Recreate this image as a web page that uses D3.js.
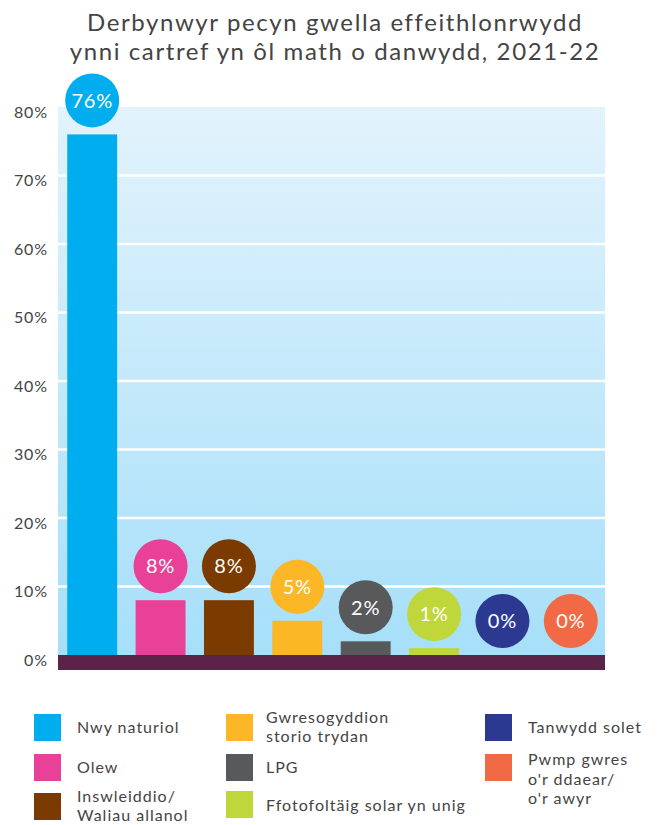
<!DOCTYPE html>
<html><head><meta charset="utf-8">
<script src="https://cdn.jsdelivr.net/npm/d3@7"></script>
<style>body{margin:0;background:#fff}svg{display:block;font-family:Lato,sans-serif}</style>
</head><body><svg id="c" width="664" height="825"></svg>
<script>
const categories = ["Nwy naturiol","Olew","Inswleiddio/ Waliau allanol","Gwresogyddion storio trydan","LPG","Ffotofoltäig solar yn unig","Tanwydd solet","Pwmp gwres o'r ddaear/ o'r awyr"];
const values = [76, 8, 8, 5, 2, 1, 0, 0];
const colors = ["#00aeef","#e84197","#7b3b00","#fbb726","#58595b","#bfd73a","#2b3990","#f26a45"];
const yTicks = [0,10,20,30,40,50,60,70,80];
const titleLines = ["Derbynwyr pecyn gwella effeithlonrwydd","ynni cartref yn ôl math o danwydd, 2021-22"];
const legendLines = [["Nwy naturiol"],["Olew"],["Inswleiddio/","Waliau allanol"],["Gwresogyddion","storio trydan"],["LPG"],["Ffotofoltäig solar yn unig"],["Tanwydd solet"],["Pwmp gwres","o'r ddaear/","o'r awyr"]];

const svg = d3.select("#c");
const L = 58, R = 605, T = 107, B = 655;
const x = d3.scaleBand().domain(categories).range([L, R]).paddingInner(0.27).paddingOuter(0.135);
const y = d3.scaleLinear().domain([0, 80]).range([B, T]);

const defs = svg.append("defs");
const g = defs.append("linearGradient").attr("id","bg").attr("x1",0).attr("x2",0).attr("y1",0).attr("y2",1);
g.append("stop").attr("offset","0%").attr("stop-color","#e2f3fc");
g.append("stop").attr("offset","100%").attr("stop-color","#a6dff9");

svg.append("rect").attr("x",L).attr("y",T).attr("width",R-L).attr("height",B-T).attr("fill","url(#bg)");

svg.append("g").selectAll("line").data(yTicks.filter(d=>d>0&&d<80)).join("line")
  .attr("x1",L).attr("x2",R).attr("y1",d=>y(d)).attr("y2",d=>y(d))
  .attr("stroke","#fff").attr("stroke-width",2.5);

const yAxis = d3.axisLeft(y).tickValues(yTicks).tickFormat(d=>d+"%").tickSize(0).tickPadding(0);
const ya = svg.append("g").attr("transform",`translate(48,5)`).call(yAxis);
ya.select(".domain").remove();
ya.selectAll("text").attr("fill","#444").style("font-size","16px").style("font-family","Lato").style("letter-spacing","0.9px");

svg.append("g").selectAll("rect").data(values).join("rect")
  .attr("x",(d,i)=>x(categories[i])).attr("width",x.bandwidth())
  .attr("y",d=>y(d)).attr("height",d=>B-y(d)).attr("fill",(d,i)=>colors[i]);

svg.append("rect").attr("x",L).attr("y",B).attr("width",R-L).attr("height",15).attr("fill","#5a2349");

const lab = svg.append("g").selectAll("g").data(values).join("g")
  .attr("transform",(d,i)=>`translate(${x(categories[i])+x.bandwidth()/2},${y(d)-34})`);
lab.append("circle").attr("r",27).attr("fill",(d,i)=>colors[i]);
lab.append("text").attr("text-anchor","middle").attr("dy","0.36em").attr("fill","#fff")
  .style("font-size","20px").style("letter-spacing","0.8px").text(d=>d+"%");

svg.append("g").selectAll("text").data(titleLines).join("text")
  .attr("x",335).attr("y",(d,i)=>22+i*29).attr("dy","0.36em").attr("text-anchor","middle")
  .attr("fill","#444").style("font-size","24px").style("letter-spacing","1.6px").text(d=>d);

const legPos = [[34,714],[34,754],[34,793],[226,714],[226,754],[226,791],[485,714],[485,754]];
const legMid = [727,767,806,727,767,805,727,779];
const leg = svg.append("g").selectAll("g").data(categories).join("g");
leg.append("rect").attr("x",(d,i)=>legPos[i][0]).attr("y",(d,i)=>legPos[i][1])
  .attr("width",27).attr("height",27).attr("fill",(d,i)=>colors[i]);
leg.append("text").attr("fill","#444").style("font-size","16px").style("letter-spacing","1px")
  .each(function(d,i){
    const lines = legendLines[i];
    const n = lines.length;
    const t = d3.select(this);
    const tx = legPos[i][0] + (i<3?43:(i<6?40:43));
    lines.forEach((s,k)=>{
      t.append("tspan").attr("x",tx)
        .attr("y",legMid[i] + (k-(n-1)/2)*19.4).attr("dy","0.36em").text(s);
    });
  });
</script></body></html>
